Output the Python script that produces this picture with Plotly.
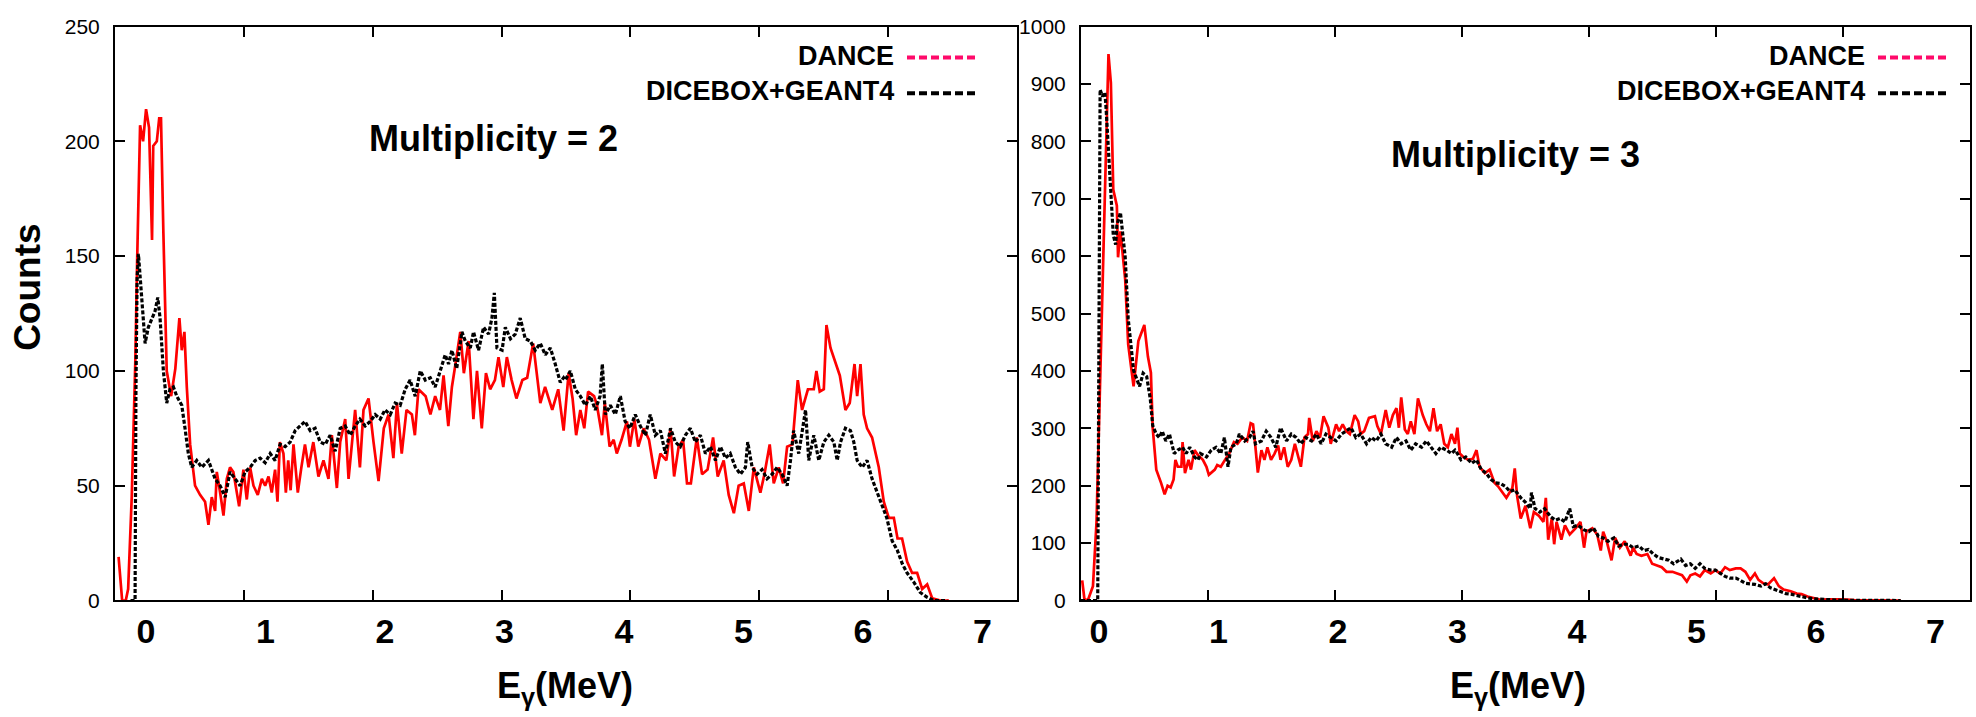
import plotly.graph_objects as go

# ---------------- data (E in MeV, counts) ----------------
m2_dance = [(-0.23,19),(-0.20,0),(-0.17,0),(-0.15,5),(-0.12,45),(-0.09,104),(-0.075,147),(-0.05,207),(-0.025,200),(0.0,214),(0.025,206),(0.05,157),(0.06,198),(0.09,200),(0.11,210),(0.125,210),(0.145,160),(0.173,100),(0.21,89),(0.245,101),(0.279,123),(0.299,109),(0.321,117),(0.341,93),(0.369,68),(0.41,50),(0.452,46),(0.494,43),(0.522,33),(0.55,45),(0.578,39),(0.592,56),(0.62,47),(0.648,37),(0.676,53),(0.703,58),(0.731,56),(0.759,47),(0.779,41),(0.815,57),(0.843,44),(0.871,58),(0.899,50),(0.935,46),(0.969,53),(0.997,50),(1.025,54),(1.052,47),(1.08,57),(1.10,43),(1.12,69),(1.15,64),(1.17,47),(1.19,61),(1.21,48),(1.234,68),(1.27,47),(1.30,58),(1.33,68),(1.36,58),(1.40,69),(1.443,54),(1.485,61),(1.527,53),(1.555,72),(1.597,49),(1.625,69),(1.667,79),(1.695,53),(1.75,83),(1.79,58),(1.82,83),(1.862,88),(1.904,69),(1.946,52),(1.99,75),(2.03,81),(2.07,62),(2.10,86),(2.14,64),(2.18,83),(2.225,81),(2.25,72),(2.28,92),(2.34,89),(2.38,81),(2.42,89),(2.46,83),(2.49,98),(2.53,76),(2.56,93),(2.59,103),(2.63,117),(2.66,99),(2.70,113),(2.74,79),(2.77,100),(2.81,75),(2.845,99),(2.88,92),(2.92,96),(2.95,106),(2.99,93),(3.02,106),(3.06,96),(3.10,88),(3.15,96),(3.19,97),(3.24,112),(3.30,86),(3.34,93),(3.40,83),(3.45,92),(3.495,74),(3.537,99),(3.57,88),(3.60,72),(3.635,83),(3.668,75),(3.70,91),(3.75,89),(3.774,85),(3.816,72),(3.84,86),(3.88,67),(3.914,70),(3.94,64),(3.98,70),(4.025,78),(4.05,67),(4.087,79),(4.12,67),(4.165,75),(4.21,70),(4.263,53),(4.305,64),(4.355,61),(4.39,75),(4.42,54),(4.458,67),(4.495,70),(4.528,51),(4.56,51),(4.61,71),(4.654,55),(4.70,57),(4.746,71),(4.785,54),(4.835,61),(4.877,46),(4.92,38),(4.96,50),(5.003,51),(5.045,39),(5.087,58),(5.142,47),(5.176,55),(5.22,68),(5.254,51),(5.296,58),(5.332,51),(5.366,67),(5.41,68),(5.455,96),(5.491,83),(5.54,92),(5.589,92),(5.611,100),(5.639,91),(5.673,92),(5.695,120),(5.729,110),(5.76,105),(5.807,98),(5.854,83),(5.89,86),(5.93,103),(5.952,89),(5.98,103),(6.007,81),(6.035,75),(6.077,71),(6.133,58),(6.175,43),(6.217,36),(6.259,36),(6.29,27),(6.328,27),(6.37,17),(6.412,12),(6.454,12),(6.496,5),(6.538,7),(6.58,1),(6.65,0),(6.72,0)]

m2_dicebox = [(-0.13,0),(-0.092,0),(-0.085,90),(-0.075,140),(-0.064,151),(-0.036,131),(-0.008,112),(0.019,119),(0.047,123),(0.075,126),(0.098,132),(0.117,123),(0.145,100),(0.173,86),(0.20,92),(0.229,93),(0.257,89),(0.299,85),(0.326,75),(0.354,64),(0.382,58),(0.424,61),(0.466,58),(0.522,61),(0.578,53),(0.62,50),(0.662,45),(0.703,56),(0.745,53),(0.787,50),(0.829,56),(0.871,58),(0.913,61),(0.955,62),(0.997,60),(1.039,64),(1.08,61),(1.122,68),(1.164,67),(1.206,69),(1.248,74),(1.29,76),(1.33,78),(1.374,74),(1.415,75),(1.457,69),(1.50,68),(1.541,72),(1.583,65),(1.625,75),(1.667,76),(1.709,72),(1.75,76),(1.79,79),(1.834,76),(1.876,78),(1.918,81),(1.96,79),(2.00,83),(2.044,81),(2.085,86),(2.127,85),(2.169,92),(2.21,96),(2.253,89),(2.295,100),(2.337,96),(2.379,97),(2.42,93),(2.462,100),(2.504,107),(2.532,103),(2.56,109),(2.60,101),(2.644,117),(2.672,113),(2.714,110),(2.741,117),(2.783,109),(2.825,119),(2.867,116),(2.895,123),(2.915,134),(2.937,110),(2.98,109),(3.007,119),(3.05,114),(3.09,116),(3.132,123),(3.174,114),(3.216,113),(3.258,109),(3.30,112),(3.342,107),(3.384,110),(3.425,103),(3.467,95),(3.495,97),(3.509,96),(3.551,100),(3.593,92),(3.635,89),(3.677,85),(3.719,89),(3.76,83),(3.80,89),(3.819,103),(3.844,81),(3.886,85),(3.928,81),(3.97,89),(4.01,78),(4.05,75),(4.095,81),(4.137,76),(4.18,72),(4.22,81),(4.263,72),(4.305,74),(4.347,64),(4.39,75),(4.43,69),(4.472,67),(4.514,72),(4.556,75),(4.598,69),(4.64,72),(4.682,64),(4.724,67),(4.766,61),(4.807,67),(4.85,62),(4.89,64),(4.933,58),(4.975,55),(5.017,58),(5.036,69),(5.073,58),(5.114,55),(5.156,57),(5.198,53),(5.24,55),(5.282,58),(5.324,55),(5.366,50),(5.394,61),(5.42,74),(5.463,64),(5.52,83),(5.547,61),(5.589,72),(5.631,61),(5.673,69),(5.715,72),(5.757,69),(5.785,61),(5.813,69),(5.854,75),(5.896,74),(5.924,69),(5.952,61),(5.994,58),(6.035,61),(6.077,53),(6.12,47),(6.16,41),(6.20,36),(6.245,26),(6.287,22),(6.33,16),(6.37,12),(6.426,8),(6.48,3.5),(6.538,1.4),(6.594,0),(6.706,0)]

m3_dance = [(-0.14,35),(-0.12,0),(-0.09,2),(-0.05,25),(-0.02,137),(0.0,305),(0.02,450),(0.06,772),(0.08,952),(0.10,902),(0.12,716),(0.15,688),(0.16,598),(0.18,643),(0.22,559),(0.245,446),(0.29,373),(0.33,452),(0.38,480),(0.41,425),(0.435,397),(0.45,301),(0.48,228),(0.52,205),(0.55,185),(0.575,200),(0.60,197),(0.625,211),(0.64,245),(0.66,233),(0.69,233),(0.70,276),(0.72,222),(0.75,245),(0.77,228),(0.80,262),(0.83,253),(0.87,245),(0.90,233),(0.92,219),(0.97,228),(0.99,236),(1.02,233),(1.055,245),(1.09,256),(1.13,276),(1.16,273),(1.20,284),(1.24,278),(1.27,309),(1.29,307),(1.31,267),(1.33,223),(1.36,262),(1.385,245),(1.41,267),(1.44,245),(1.47,256),(1.50,270),(1.52,245),(1.55,267),(1.58,233),(1.61,245),(1.64,273),(1.66,256),(1.69,233),(1.72,284),(1.75,290),(1.76,318),(1.79,278),(1.82,295),(1.85,284),(1.88,321),(1.92,301),(1.94,273),(1.985,307),(2.01,295),(2.04,307),(2.07,295),(2.10,290),(2.14,323),(2.17,312),(2.19,290),(2.22,295),(2.26,318),(2.31,321),(2.33,304),(2.36,290),(2.40,332),(2.43,301),(2.46,323),(2.49,335),(2.51,301),(2.53,354),(2.56,298),(2.585,290),(2.61,312),(2.64,290),(2.67,352),(2.71,323),(2.74,307),(2.77,295),(2.80,335),(2.83,295),(2.86,307),(2.89,273),(2.92,267),(2.95,290),(2.98,273),(3.00,301),(3.02,256),(3.05,250),(3.09,245),(3.13,247),(3.16,262),(3.185,233),(3.23,222),(3.27,228),(3.31,205),(3.34,199),(3.41,179),(3.46,196),(3.48,230),(3.50,182),(3.53,143),(3.57,165),(3.61,126),(3.64,154),(3.68,148),(3.72,137),(3.74,179),(3.76,106),(3.79,143),(3.81,98),(3.83,137),(3.87,106),(3.90,131),(3.94,115),(3.99,126),(4.03,137),(4.06,92),(4.08,120),(4.13,126),(4.17,115),(4.20,87),(4.22,120),(4.25,103),(4.29,70),(4.32,109),(4.36,92),(4.40,103),(4.45,78),(4.47,92),(4.50,81),(4.54,78),(4.59,81),(4.63,64),(4.67,61),(4.71,58),(4.75,50),(4.80,50),(4.84,47),(4.88,44),(4.92,33),(4.95,44),(4.99,47),(5.03,42),(5.07,53),(5.12,47),(5.16,53),(5.20,47),(5.24,58),(5.28,53),(5.33,56),(5.37,56),(5.41,50),(5.45,36),(5.49,47),(5.52,36),(5.56,30),(5.60,28),(5.65,39),(5.69,25),(5.73,19),(5.79,16),(5.84,12),(5.88,11),(5.93,7),(5.98,4.5),(6.04,1),(6.09,2),(6.15,2),(6.23,2),(6.32,0.5),(6.43,0),(6.71,0)]

m3_dicebox = [(-0.15,0),(-0.01,0),(0.0,450),(0.01,890),(0.03,878),(0.05,885),(0.06,857),(0.09,744),(0.12,637),(0.14,620),(0.15,654),(0.18,676),(0.20,632),(0.22,598),(0.245,491),(0.28,418),(0.29,401),(0.32,384),(0.34,373),(0.37,396),(0.40,390),(0.43,351),(0.45,305),(0.48,290),(0.505,284),(0.53,295),(0.56,278),(0.59,290),(0.63,256),(0.66,262),(0.70,267),(0.73,256),(0.76,267),(0.80,250),(0.83,245),(0.85,256),(0.90,250),(0.94,262),(0.98,267),(1.02,256),(1.05,284),(1.08,233),(1.105,267),(1.15,273),(1.175,290),(1.22,278),(1.26,284),(1.29,295),(1.31,273),(1.36,278),(1.40,295),(1.44,284),(1.48,267),(1.52,301),(1.57,278),(1.61,290),(1.65,284),(1.69,273),(1.73,284),(1.78,278),(1.82,290),(1.86,273),(1.90,290),(1.94,284),(1.985,278),(2.03,290),(2.07,295),(2.11,301),(2.15,284),(2.19,290),(2.24,273),(2.28,284),(2.32,278),(2.36,290),(2.40,273),(2.45,267),(2.49,284),(2.53,273),(2.57,278),(2.61,262),(2.65,273),(2.70,267),(2.74,278),(2.78,267),(2.82,256),(2.86,267),(2.91,262),(2.95,256),(2.98,262),(3.00,256),(3.03,245),(3.07,250),(3.12,239),(3.16,245),(3.20,228),(3.24,222),(3.28,211),(3.32,205),(3.36,204),(3.40,199),(3.44,190),(3.48,193),(3.53,179),(3.57,171),(3.61,160),(3.62,188),(3.65,160),(3.69,154),(3.73,160),(3.78,146),(3.82,140),(3.86,143),(3.90,137),(3.94,160),(3.97,129),(4.01,131),(4.06,123),(4.10,120),(4.14,126),(4.18,112),(4.22,109),(4.26,103),(4.31,109),(4.35,95),(4.39,98),(4.43,98),(4.47,92),(4.52,95),(4.56,87),(4.60,89),(4.64,81),(4.68,75),(4.73,72),(4.77,70),(4.81,64),(4.87,72),(4.91,61),(4.95,64),(4.99,56),(5.03,64),(5.07,56),(5.12,53),(5.16,53),(5.20,47),(5.24,42),(5.28,39),(5.33,39),(5.37,35),(5.41,30),(5.45,29),(5.49,28),(5.54,25),(5.58,29),(5.62,22),(5.66,19),(5.70,16),(5.75,12),(5.79,11),(5.83,9),(5.87,7),(5.93,4.5),(5.98,3),(6.04,2),(6.12,0.6),(6.21,0.3),(6.71,0)]

x_tick_labels = ["0", "1", "2", "3", "4", "5", "6", "7"]
y_ticks_m2 = [0, 50, 100, 150, 200, 250]
y_ticks_m3 = [0, 100, 200, 300, 400, 500, 600, 700, 800, 900, 1000]
series_names = ["DANCE", "DICEBOX+GEANT4"]
panel_titles = ["Multiplicity = 2", "Multiplicity = 3"]

W, H = 1976, 717
FONT = "Liberation Sans, Arial, Helvetica, sans-serif"
RED = "#ff0000"
PINK = "#ff0a6a"

def px(x):
    return x / W

def py(y):
    return 1 - y / H

fig = go.Figure()

def split(pairs):
    return [p[0] for p in pairs], [p[1] for p in pairs]

for data, xa, ya in [(m2_dance, "x", "y"), (m3_dance, "x2", "y2")]:
    e, c = split(data)
    fig.add_trace(go.Scatter(x=e, y=c, mode="lines", xaxis=xa, yaxis=ya,
                             line=dict(color=RED, width=2.7), showlegend=False,
                             name=series_names[0], hoverinfo="skip"))
for data, xa, ya in [(m2_dicebox, "x", "y"), (m3_dicebox, "x2", "y2")]:
    e, c = split(data)
    fig.add_trace(go.Scatter(x=e, y=c, mode="lines", xaxis=xa, yaxis=ya,
                             line=dict(color="black", width=3.2, dash="4px,2px"),
                             showlegend=False, name=series_names[1], hoverinfo="skip"))

# empty traces so the frame/tick-mark axes are drawn
for xa, ya in [("x3", "y"), ("x4", "y2")]:
    fig.add_trace(go.Scatter(x=[None], y=[None], mode="lines", xaxis=xa, yaxis=ya,
                             showlegend=False, hoverinfo="skip"))

dom_left = [px(115), px(1017)]
dom_right = [px(1081), px(1970)]
dom_y = [py(608), py(15)]

lab_axis = dict(tickvals=list(range(8)), ticktext=x_tick_labels, ticks="",
                showline=False, showgrid=False, zeroline=False,
                tickfont=dict(family=FONT, size=34, color="black", weight="bold"),
                ticklabelstandoff=8)
mark_axis = dict(range=[0, 7], tickvals=list(range(8)), ticks="inside", ticklen=10,
                 tickwidth=2, tickcolor="black", showticklabels=False,
                 showline=True, linewidth=2, linecolor="black", mirror="ticks",
                 showgrid=False, zeroline=False)
y_common = dict(ticks="inside", ticklen=10, tickwidth=2, tickcolor="black",
                showline=True, linewidth=2, linecolor="black", mirror="ticks",
                showgrid=False, zeroline=False,
                tickfont=dict(family=FONT, size=21, color="black"),
                ticklabelstandoff=9)

fig.update_layout(
    width=W, height=H,
    margin=dict(l=0, r=0, t=0, b=0),
    paper_bgcolor="white", plot_bgcolor="white",
    xaxis=dict(domain=dom_left, range=[-0.26, 7.29], anchor="y", **lab_axis),
    xaxis2=dict(domain=dom_right, range=[-0.15, 7.29], anchor="y2", **lab_axis),
    xaxis3=dict(overlaying="x", anchor="y", **mark_axis),
    xaxis4=dict(overlaying="x2", anchor="y2", **mark_axis),
    yaxis=dict(domain=dom_y, range=[0, 250], tickvals=y_ticks_m2, anchor="x", **y_common),
    yaxis2=dict(domain=dom_y, range=[0, 1000], tickvals=y_ticks_m3, anchor="x2", **y_common),
)

ann = []
bold = lambda s: dict(family=FONT, size=s, color="black", weight="bold")
ann.append(dict(x=px(27.5), y=py(284.5), xref="paper", yref="paper", text="Counts",
                textangle=-90, showarrow=False, font=bold(37),
                xanchor="center", yanchor="middle"))
for xc in (565, 1518):
    ann.append(dict(x=px(xc), y=py(698), xref="paper", yref="paper",
                    text="E<sub>γ</sub>(MeV)", showarrow=False, font=bold(36),
                    xanchor="center", yanchor="middle"))
ann.append(dict(x=px(493), y=py(131), xref="paper", yref="paper", text=panel_titles[0],
                showarrow=False, font=bold(36), xanchor="center", yanchor="middle"))
ann.append(dict(x=px(1515), y=py(147), xref="paper", yref="paper", text=panel_titles[1],
                showarrow=False, font=bold(36), xanchor="center", yanchor="middle"))

shapes = []
for xr, xs0, xs1 in [(896, 907, 979), (1867, 1878, 1950)]:
    for i, (yy, col) in enumerate([(45, PINK), (82, "black")]):
        ann.append(dict(x=px(xr), y=py(yy), xref="paper", yref="paper",
                        text=series_names[i], showarrow=False, font=bold(27),
                        xanchor="right", yanchor="middle"))
        shapes.append(dict(type="line", xref="paper", yref="paper",
                           x0=px(xs0), x1=px(xs1), y0=py(yy + 2), y1=py(yy + 2),
                           line=dict(color=col, width=4, dash="8px,4px")))

fig.update_layout(annotations=ann, shapes=shapes)
fig.write_html("out.html")
